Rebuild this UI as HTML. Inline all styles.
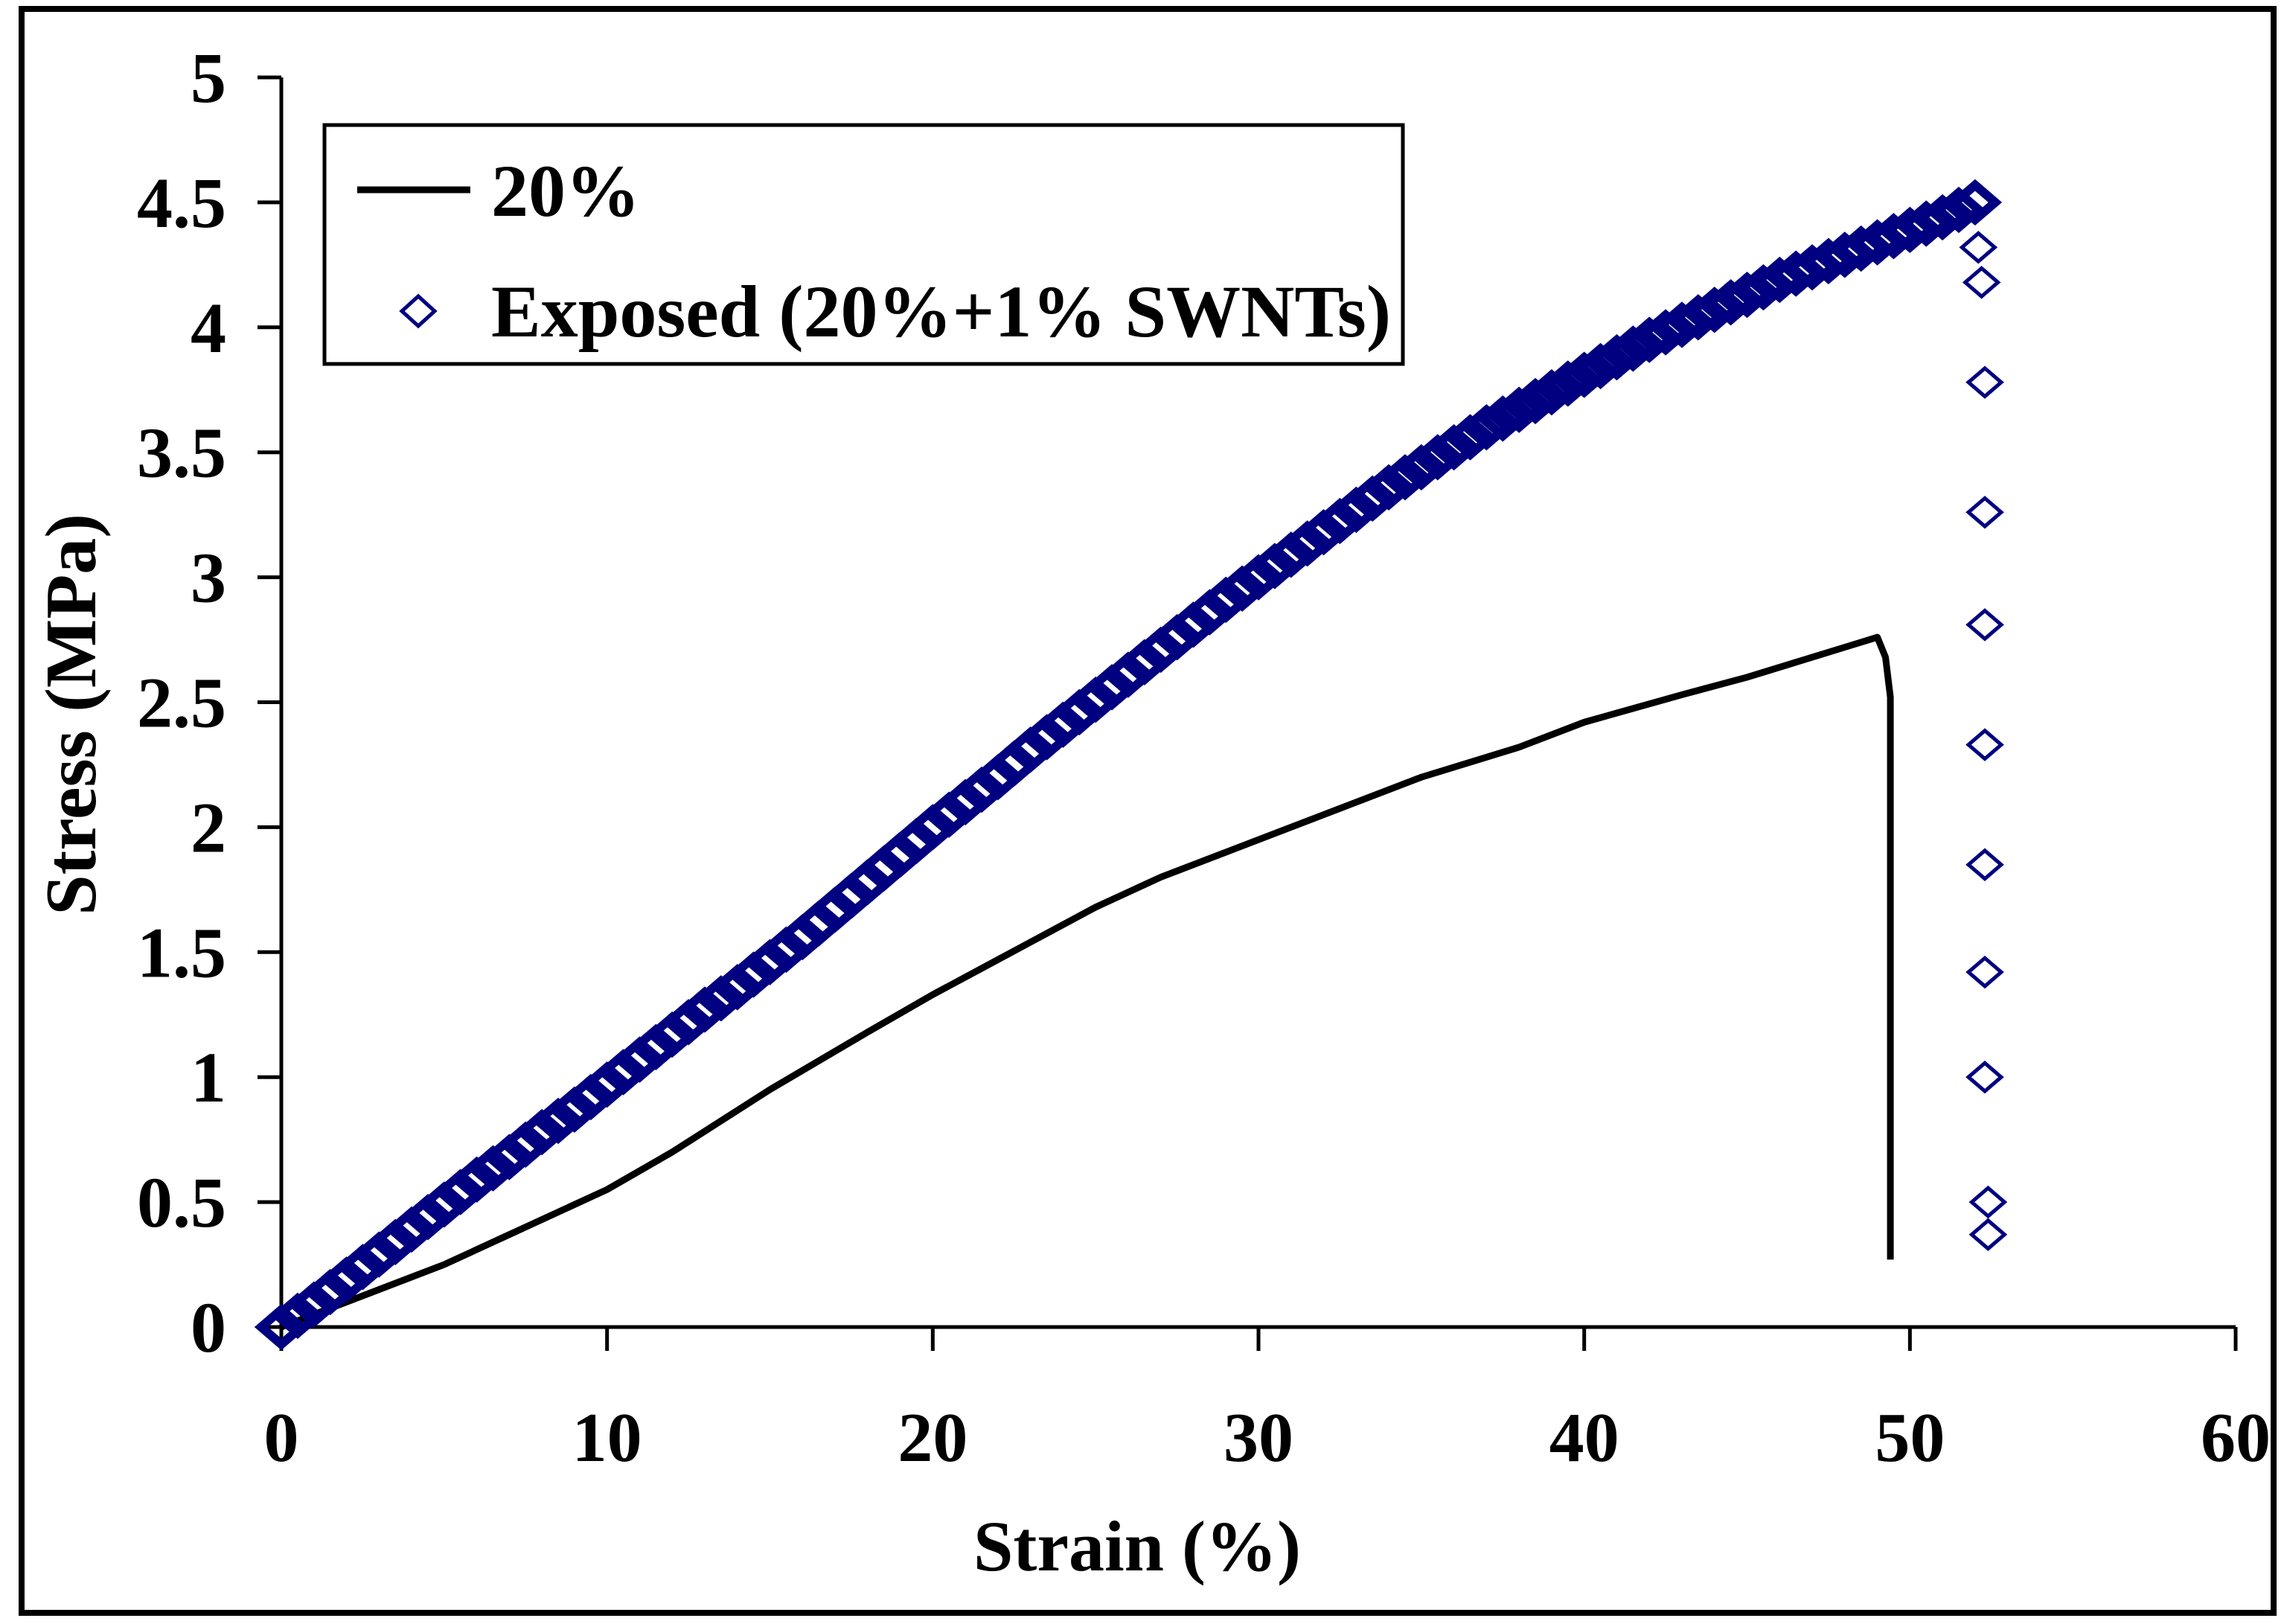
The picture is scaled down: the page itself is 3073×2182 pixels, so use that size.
<!DOCTYPE html>
<html><head><meta charset="utf-8"><style>
html,body{margin:0;padding:0;background:#fff;}
svg{display:block;font-family:"Liberation Serif",serif;font-weight:bold;}
</style></head><body>
<svg id="chart" width="3073" height="2182" viewBox="0 0 3073 2182" xmlns="http://www.w3.org/2000/svg">
<rect x="29" y="12" width="3026" height="2155" fill="#fff" stroke="#000" stroke-width="8"/>
<g id="axes"></g>
<g id="series"></g>
<g>
<rect x="436" y="168" width="1449" height="321" fill="#fff" stroke="#000" stroke-width="5"/>
<line x1="480" y1="255" x2="632" y2="255" stroke="#000" stroke-width="9"/>
<text x="660" y="290" font-size="100">20%</text>
<polygon points="540,418 562,398 584,418 562,438" fill="none" stroke="#000080" stroke-width="5"/>
<text x="660" y="452" font-size="100">Exposed (20%+1% SWNTs)</text>
</g>
<text x="1528" y="2110" font-size="96" text-anchor="middle">Strain (%)</text>
<text transform="translate(128,960) rotate(-90)" font-size="98" text-anchor="middle">Stress (MPa)</text>
</svg>
<script>
const xTicks=[0,10,20,30,40,50,60];
const yTicks=[0,0.5,1,1.5,2,2.5,3,3.5,4,4.5,5];
const yTickLabels=["0","0.5","1","1.5","2","2.5","3","3.5","4","4.5","5"];
const plainStrain=[0,1,2,3,5,7,10,12,15,18,20,22,25,27,30,33,35,38,40,43,45,47,48,49,49.25,49.4,49.4];
const plainStress=[0,0.05,0.1,0.15,0.25,0.37,0.55,0.7,0.95,1.18,1.33,1.47,1.68,1.8,1.95,2.1,2.2,2.32,2.42,2.53,2.6,2.68,2.72,2.76,2.68,2.52,0.27];
const expStress=[0,0.045,0.09,0.14,0.19,0.24,0.29,0.34,0.39,0.44,0.49,0.54,0.59,0.635,0.68,0.73,0.78,0.825,0.87,0.92,0.97,1.02,1.07,1.12,1.17,1.22,1.27,1.315,1.36,1.41,1.46,1.51,1.56,1.615,1.67,1.725,1.78,1.835,1.89,1.945,2.0,2.05,2.1,2.15,2.2,2.255,2.31,2.36,2.41,2.46,2.51,2.56,2.61,2.66,2.71,2.76,2.81,2.86,2.91,2.955,3.0,3.045,3.09,3.135,3.18,3.225,3.27,3.315,3.36,3.4,3.44,3.48,3.52,3.56,3.6,3.635,3.67,3.705,3.74,3.775,3.81,3.845,3.88,3.915,3.95,3.98,4.01,4.04,4.07,4.1,4.13,4.16,4.19,4.215,4.24,4.265,4.29,4.315,4.34,4.365,4.39,4.415,4.44,4.47,4.5];
const expStrain=[];for(let i=0;i<expStress.length;i++)expStrain.push(i*0.5);
const dropStrain=[52.1,52.2,52.3,52.3,52.3,52.3,52.3,52.3,52.3,52.4,52.4];
const dropStress=[4.32,4.18,3.78,3.26,2.81,2.33,1.85,1.42,1.0,0.5,0.37];
const NS="http://www.w3.org/2000/svg";
const X0=378,X1=3004,Y0=1783,Y1=104;
function sx(v){return X0+(v-0)/(60-0)*(X1-X0);}
function sy(v){return Y0-(v-0)/(5-0)*(Y0-Y1);}
function mk(t,a,p){const e=document.createElementNS(NS,t);for(const k in a)e.setAttribute(k,a[k]);p.appendChild(e);return e;}
const ax=document.getElementById('axes'),se=document.getElementById('series');
let l=mk('line',{x1:X0,y1:Y1,x2:X0,y2:Y0,stroke:'#000','stroke-width':5},ax);


l=mk('line',{x1:X0,y1:Y0,x2:X1,y2:Y0,stroke:'#000','stroke-width':5},ax);


yTicks.forEach((v,i)=>{
 const t=mk('line',{x1:X0-32,y1:sy(v),x2:X0,y2:sy(v),stroke:'#000','stroke-width':5},ax);
 
 
 const tx=mk('text',{x:X0-74,y:sy(v)+33,'font-size':96,'text-anchor':'end'},ax);
 tx.textContent=yTickLabels[i];
 
 
});
xTicks.forEach(v=>{
 const t=mk('line',{x1:sx(v),y1:Y0,x2:sx(v),y2:Y0+32,stroke:'#000','stroke-width':5},ax);
 
 
 const tx=mk('text',{x:sx(v),y:Y0+180,'font-size':94,'text-anchor':'middle'},ax);
 tx.textContent=String(v);
 
 
});
let d=plainStrain.map((v,i)=>(i?'L':'M')+sx(v)+','+sy(plainStress[i])).join(' ');
const pl=mk('path',{d:d,fill:'none',stroke:'#000','stroke-width':9,'stroke-linejoin':'round'},se);


function diamond(x,y,name,w,s){
 const p=mk('polygon',{points:`${x-s},${y} ${x},${y-s*0.86} ${x+s},${y} ${x},${y+s*0.86}`,fill:'none',stroke:'#000080','stroke-width':w},se);
 
 
}
expStrain.forEach((v,i)=>{diamond(sx(v),sy(expStress[i]),'exposed-point',12,27);});
dropStrain.forEach((v,i)=>{diamond(sx(v),sy(dropStress[i]),'exposed-failure-point',5,22);});
</script>
</body></html>
